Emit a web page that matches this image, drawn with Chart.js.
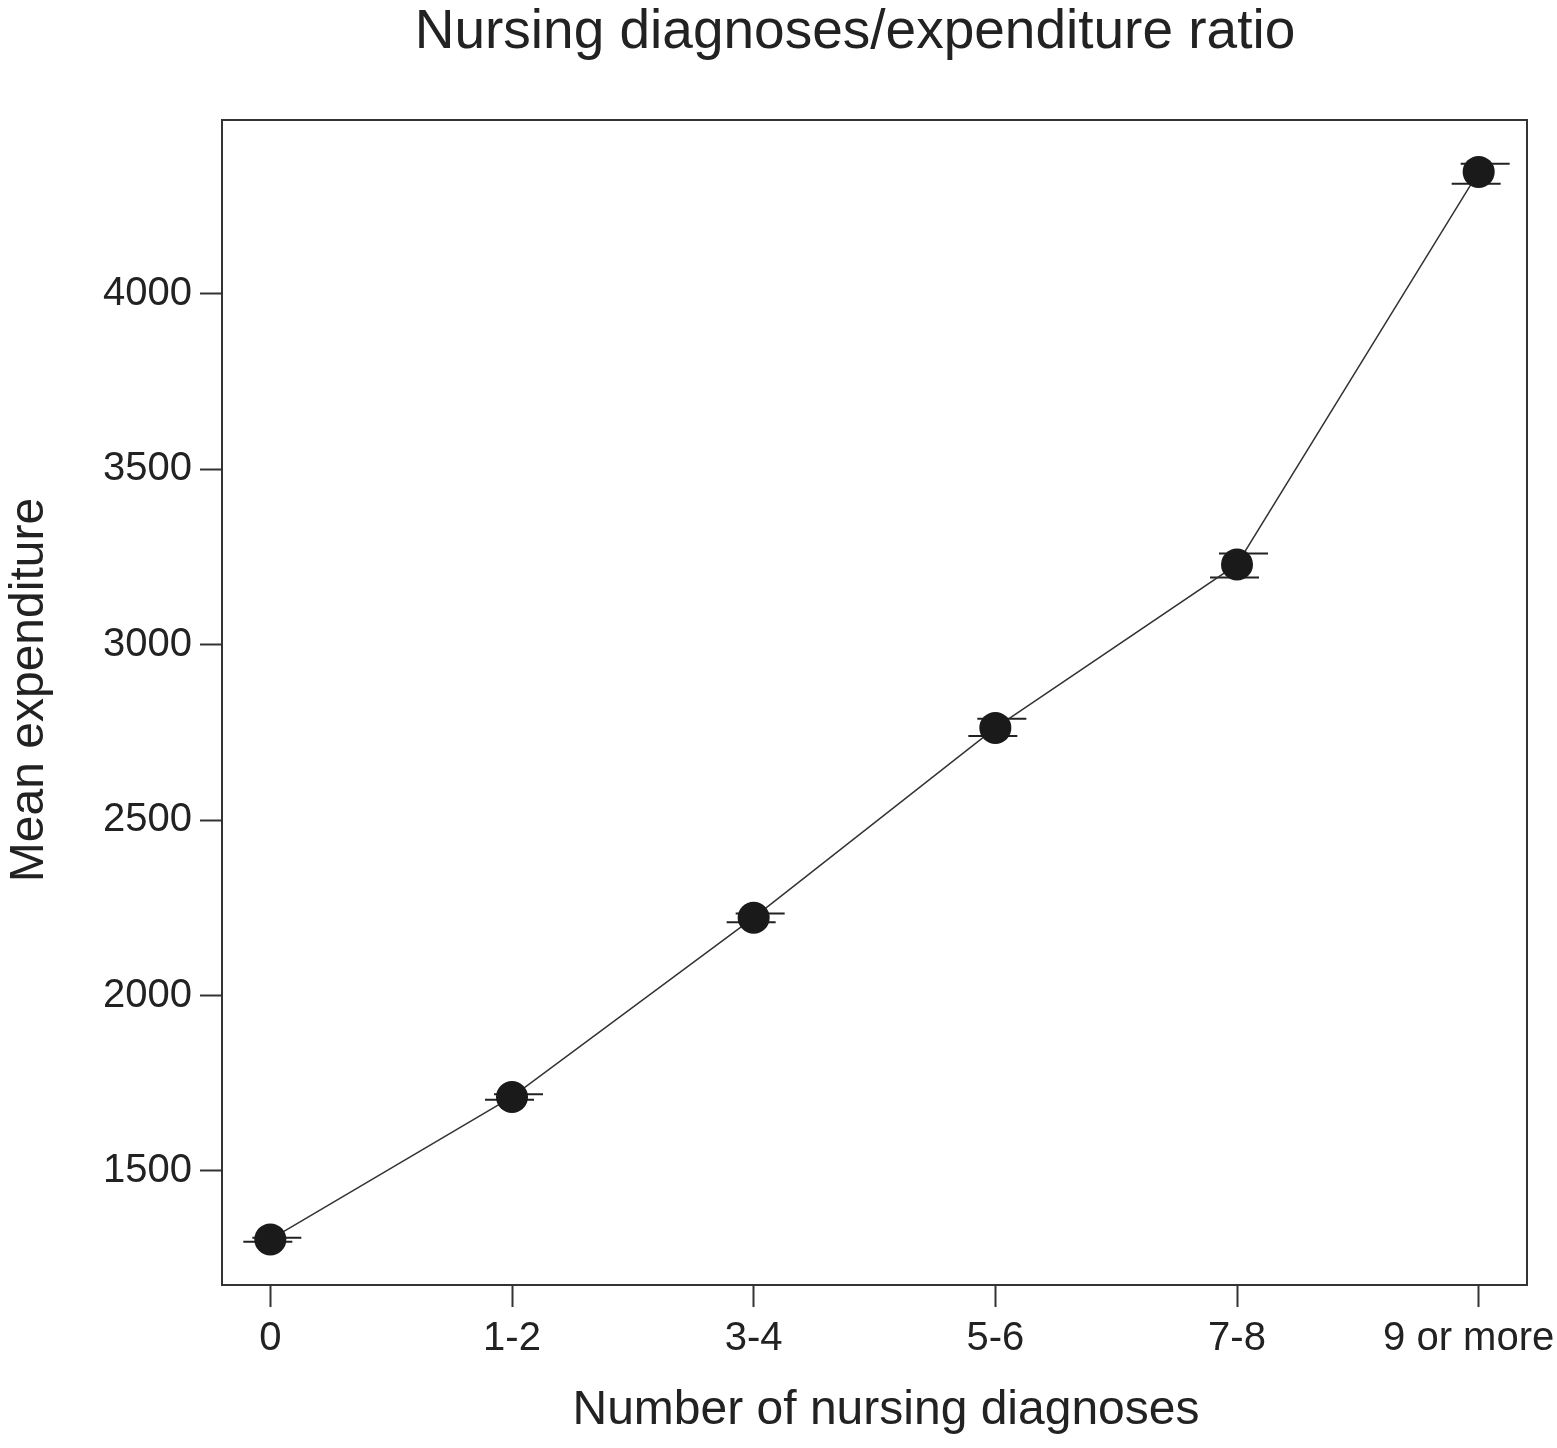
<!DOCTYPE html>
<html>
<head>
<meta charset="utf-8">
<script src="https://cdn.jsdelivr.net/npm/chart.js@4.4.1/dist/chart.umd.min.js"></script>
<style>
html,body{margin:0;padding:0;background:#fff;}
#wrap{width:1557px;height:1448px;position:relative;}
</style>
</head>
<body>
<div id="wrap"><canvas id="c" width="1557" height="1448"></canvas></div>
<script>
const categories = ["0", "1-2", "3-4", "5-6", "7-8", "9 or more"];
const meanValues = [1305, 1711, 2222, 2763, 3229, 4348];
const ciUpper = [1310, 1719, 2234, 2789, 3260, 4371];
const ciLower = [1298, 1703, 2209, 2740, 3192, 4314];
const yTicks = [1500, 2000, 2500, 3000, 3500, 4000];
const chartTitle = "Nursing diagnoses/expenditure ratio";
const xTitle = "Number of nursing diagnoses";
const yTitle = "Mean expenditure";

const FONT = "'Liberation Sans', Arial, Helvetica, sans-serif";
const INK = '#222';

const boxAndCaps = {
  id: 'boxAndCaps',
  beforeDraw(chart) {
    // nudge the last x tick label left so it fits inside the canvas, as in the reference
    const items = chart.scales.x.getLabelItems();
    if (items && items.length) {
      const last = items[items.length - 1];
      if (!last._nudged) { last.options.translation[0] -= 10; last._nudged = true; }
    }
  },
  beforeDatasetsDraw(chart) {
    const ctx = chart.ctx;
    const x = chart.scales.x, y = chart.scales.y;
    ctx.save();
    ctx.strokeStyle = INK;
    ctx.lineWidth = 2;
    for (let i = 0; i < categories.length; i++) {
      const px = x.getPixelForValue(i);
      const yu = y.getPixelForValue(ciUpper[i]);
      const yl = y.getPixelForValue(ciLower[i]);
      ctx.beginPath();
      ctx.moveTo(px - 18, yu); ctx.lineTo(px + 31, yu);
      ctx.moveTo(px - 27, yl); ctx.lineTo(px + 22, yl);
      ctx.stroke();
    }
    ctx.restore();
  },
  afterDraw(chart) {
    const ctx = chart.ctx;
    const a = chart.chartArea;
    ctx.save();
    ctx.strokeStyle = '#333';
    ctx.lineWidth = 2;
    ctx.strokeRect(a.left, a.top, a.right - a.left, a.bottom - a.top);
    ctx.fillStyle = INK;
    ctx.textAlign = 'center';
    ctx.textBaseline = 'alphabetic';
    ctx.font = "55px " + FONT;
    ctx.fillText(chartTitle, 855, 48);
    ctx.font = "48px " + FONT;
    ctx.fillText(xTitle, 886, 1424);
    ctx.translate(43, 690);
    ctx.rotate(-Math.PI / 2);
    ctx.fillText(yTitle, 0, 0);
    ctx.restore();
  }
};

new Chart(document.getElementById('c'), {
  type: 'line',
  data: {
    datasets: [{
      data: meanValues.map((v, i) => ({x: i, y: v})),
      borderColor: '#333',
      borderWidth: 1.5,
      pointRadius: 16,
      pointHoverRadius: 16,
      pointBackgroundColor: '#1a1a1a',
      pointBorderColor: '#1a1a1a',
      pointBorderWidth: 0,
      tension: 0,
      fill: false
    }]
  },
  options: {
    responsive: false,
    animation: false,
    devicePixelRatio: 1,
    layout: { padding: { top: 120, right: 30, left: 0, bottom: 0 } },
    plugins: { legend: { display: false }, tooltip: { enabled: false }, title: { display: false } },
    scales: {
      x: {
        type: 'linear',
        min: -0.2,
        max: 5.2,
        afterBuildTicks(scale) { scale.ticks = categories.map((c, i) => ({value: i})); },
        afterFit(scale) { scale.height = 163; scale.paddingLeft = 0; scale.paddingRight = 0; },
        ticks: {
          autoSkip: false, maxRotation: 0, padding: 8,
          color: INK, font: { family: FONT, size: 40 },
          callback: (v) => categories[v] !== undefined ? categories[v] : ''
        },
        grid: { display: true, drawOnChartArea: false, tickLength: 22, tickWidth: 2, tickColor: '#333' },
        border: { display: false },
        title: { display: false }
      },
      y: {
        type: 'linear',
        min: 1175,
        max: 4496,
        afterBuildTicks(scale) { scale.ticks = yTicks.map(v => ({value: v})); },
        afterFit(scale) { scale.width = 222; scale.paddingTop = 0; scale.paddingBottom = 0; },
        ticks: { padding: 8, color: INK, font: { family: FONT, size: 40 }, callback: (v) => String(v) },
        grid: { display: true, drawOnChartArea: false, tickLength: 22, tickWidth: 2, tickColor: '#333' },
        border: { display: false },
        title: { display: false }
      }
    }
  },
  plugins: [boxAndCaps]
});
</script>
</body>
</html>
